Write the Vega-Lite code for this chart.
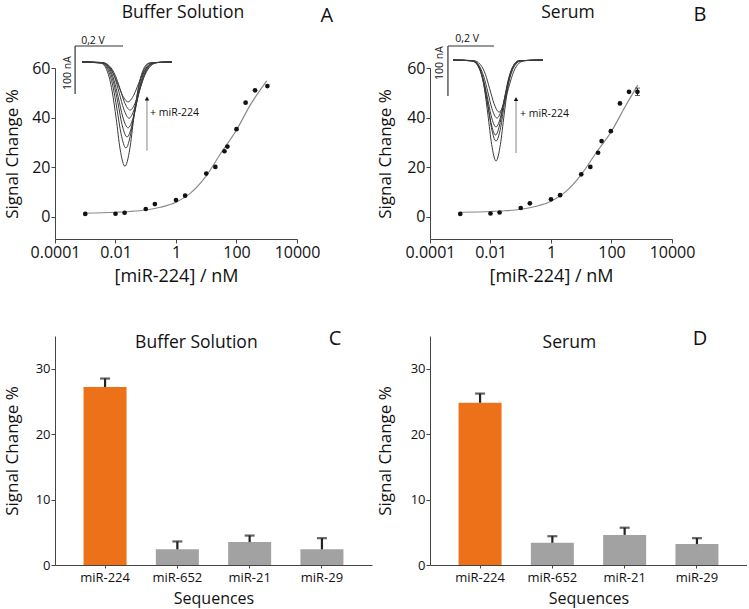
{
 "$schema": "https://vega.github.io/schema/vega-lite/v6.json",
 "padding": {"left": 3, "top": 3, "right": 0, "bottom": 4},
 "background": "white",
 "config": {
  "view": {"stroke": null},
  "font": "Open Sans",
  "axis": {"grid": false, "domainColor": "#444", "domainWidth": 1, "tickColor": "#444", "tickSize": 4, "labelColor": "#111", "titleColor": "#111", "titleFontWeight": "normal", "labelPadding": 1},
  "text": {"color": "#111", "font": "Open Sans"}
 },
 "datasets": {
  "fitA": [{"conc":0.001,"signal":1.4},{"conc":0.01,"signal":1.8},{"conc":0.03,"signal":2.1},{"conc":0.1,"signal":2.7},{"conc":0.3,"signal":3.8},{"conc":1,"signal":5.8},{"conc":3,"signal":9.5},{"conc":10,"signal":16.5},{"conc":30,"signal":25.5},{"conc":100,"signal":35},{"conc":300,"signal":45.5},{"conc":1000,"signal":54.8}],
  "ptsA": [{"conc":0.001,"signal":1.1},{"conc":0.01,"signal":1.2},{"conc":0.02,"signal":1.6},{"conc":0.1,"signal":3.1},{"conc":0.2,"signal":5.1},{"conc":1,"signal":6.7},{"conc":2,"signal":8.5},{"conc":10,"signal":17.4},{"conc":20,"signal":20.1},{"conc":40,"signal":26.4},{"conc":50,"signal":28.3},{"conc":100,"signal":35.3},{"conc":200,"signal":46.0},{"conc":410,"signal":51.0},{"conc":1050,"signal":52.7}],
  "fitB": [{"conc":0.001,"signal":1.8},{"conc":0.01,"signal":2.1},{"conc":0.03,"signal":2.4},{"conc":0.1,"signal":3.0},{"conc":0.3,"signal":4.1},{"conc":1,"signal":6.2},{"conc":3,"signal":10},{"conc":10,"signal":17},{"conc":30,"signal":25.5},{"conc":100,"signal":34.5},{"conc":300,"signal":45},{"conc":740,"signal":53.1}],
  "ptsB": [{"conc":0.001,"signal":1.1},{"conc":0.01,"signal":1.3},{"conc":0.02,"signal":1.7},{"conc":0.1,"signal":3.5},{"conc":0.2,"signal":5.4},{"conc":1,"signal":7.0},{"conc":2,"signal":8.7},{"conc":10,"signal":17.1},{"conc":20,"signal":20.1},{"conc":36,"signal":25.8},{"conc":47,"signal":30.5},{"conc":95,"signal":34.5},{"conc":190,"signal":45.7},{"conc":380,"signal":50.4},{"conc":720,"signal":50.4}],
  "errB": [{"conc":720,"lo":48.9,"hi":51.9}],
  "ivA": [
   {"c":"a1","E":0.012,"I":0},{"c":"a1","E":0.090,"I":-2.4},{"c":"a1","E":0.116,"I":-19.3},{"c":"a1","E":0.136,"I":-60.3},{"c":"a1","E":0.153,"I":-118.5},{"c":"a1","E":0.169,"I":-181.2},{"c":"a1","E":0.189,"I":-217},{"c":"a1","E":0.209,"I":-181.2},{"c":"a1","E":0.225,"I":-118.5},{"c":"a1","E":0.242,"I":-60.3},{"c":"a1","E":0.262,"I":-19.3},{"c":"a1","E":0.288,"I":-2.4},{"c":"a1","E":0.383,"I":0},
   {"c":"a2","E":0.012,"I":0},{"c":"a2","E":0.091,"I":-2.0},{"c":"a2","E":0.118,"I":-15.9},{"c":"a2","E":0.139,"I":-49.8},{"c":"a2","E":0.156,"I":-97.7},{"c":"a2","E":0.173,"I":-149.5},{"c":"a2","E":0.193,"I":-179},{"c":"a2","E":0.213,"I":-149.5},{"c":"a2","E":0.230,"I":-97.7},{"c":"a2","E":0.247,"I":-49.8},{"c":"a2","E":0.268,"I":-15.9},{"c":"a2","E":0.295,"I":-2.0},{"c":"a2","E":0.383,"I":0},
   {"c":"a3","E":0.012,"I":0},{"c":"a3","E":0.093,"I":-1.7},{"c":"a3","E":0.121,"I":-13.9},{"c":"a3","E":0.142,"I":-43.4},{"c":"a3","E":0.160,"I":-85.2},{"c":"a3","E":0.177,"I":-130.3},{"c":"a3","E":0.198,"I":-156},{"c":"a3","E":0.219,"I":-130.3},{"c":"a3","E":0.237,"I":-85.2},{"c":"a3","E":0.254,"I":-43.4},{"c":"a3","E":0.275,"I":-13.9},{"c":"a3","E":0.303,"I":-1.7},{"c":"a3","E":0.383,"I":0},
   {"c":"a4","E":0.012,"I":0},{"c":"a4","E":0.094,"I":-1.5},{"c":"a4","E":0.123,"I":-12.2},{"c":"a4","E":0.144,"I":-38.1},{"c":"a4","E":0.162,"I":-74.8},{"c":"a4","E":0.180,"I":-114.4},{"c":"a4","E":0.202,"I":-137},{"c":"a4","E":0.224,"I":-114.4},{"c":"a4","E":0.242,"I":-74.8},{"c":"a4","E":0.260,"I":-38.1},{"c":"a4","E":0.281,"I":-12.2},{"c":"a4","E":0.310,"I":-1.5},{"c":"a4","E":0.383,"I":0},
   {"c":"a5","E":0.012,"I":0},{"c":"a5","E":0.095,"I":-1.3},{"c":"a5","E":0.125,"I":-10.4},{"c":"a5","E":0.147,"I":-32.5},{"c":"a5","E":0.165,"I":-63.9},{"c":"a5","E":0.184,"I":-97.7},{"c":"a5","E":0.206,"I":-117},{"c":"a5","E":0.228,"I":-97.7},{"c":"a5","E":0.247,"I":-63.9},{"c":"a5","E":0.265,"I":-32.5},{"c":"a5","E":0.287,"I":-10.4},{"c":"a5","E":0.317,"I":-1.3},{"c":"a5","E":0.383,"I":0},
   {"c":"a6","E":0.012,"I":0},{"c":"a6","E":0.096,"I":-1.1},{"c":"a6","E":0.126,"I":-8.9},{"c":"a6","E":0.149,"I":-27.8},{"c":"a6","E":0.168,"I":-54.6},{"c":"a6","E":0.187,"I":-83.5},{"c":"a6","E":0.210,"I":-100},{"c":"a6","E":0.233,"I":-83.5},{"c":"a6","E":0.252,"I":-54.6},{"c":"a6","E":0.271,"I":-27.8},{"c":"a6","E":0.294,"I":-8.9},{"c":"a6","E":0.324,"I":-1.1},{"c":"a6","E":0.383,"I":0},
   {"c":"a7","E":0.012,"I":0},{"c":"a7","E":0.085,"I":-0.9},{"c":"a7","E":0.116,"I":-7.4},{"c":"a7","E":0.140,"I":-23.1},{"c":"a7","E":0.159,"I":-45.3},{"c":"a7","E":0.179,"I":-69.3},{"c":"a7","E":0.202,"I":-83},{"c":"a7","E":0.225,"I":-69.3},{"c":"a7","E":0.245,"I":-45.3},{"c":"a7","E":0.264,"I":-23.1},{"c":"a7","E":0.288,"I":-7.4},{"c":"a7","E":0.319,"I":-0.9},{"c":"a7","E":0.383,"I":0}
  ],
  "ivB": [
   {"c":"b1","E":-0.02,"I":0},{"c":"b1","E":0.071,"I":-2.2},{"c":"b1","E":0.097,"I":-18.0},{"c":"b1","E":0.116,"I":-56.2},{"c":"b1","E":0.132,"I":-110.3},{"c":"b1","E":0.148,"I":-168.7},{"c":"b1","E":0.167,"I":-202},{"c":"b1","E":0.186,"I":-168.7},{"c":"b1","E":0.202,"I":-110.3},{"c":"b1","E":0.218,"I":-56.2},{"c":"b1","E":0.237,"I":-18.0},{"c":"b1","E":0.263,"I":-2.2},{"c":"b1","E":0.371,"I":0},
   {"c":"b2","E":-0.02,"I":0},{"c":"b2","E":0.068,"I":-1.8},{"c":"b2","E":0.094,"I":-14.4},{"c":"b2","E":0.114,"I":-45.0},{"c":"b2","E":0.131,"I":-88.5},{"c":"b2","E":0.147,"I":-135.3},{"c":"b2","E":0.167,"I":-162},{"c":"b2","E":0.187,"I":-135.3},{"c":"b2","E":0.203,"I":-88.5},{"c":"b2","E":0.220,"I":-45.0},{"c":"b2","E":0.240,"I":-14.4},{"c":"b2","E":0.266,"I":-1.8},{"c":"b2","E":0.371,"I":0},
   {"c":"b3","E":-0.02,"I":0},{"c":"b3","E":0.063,"I":-1.7},{"c":"b3","E":0.090,"I":-13.3},{"c":"b3","E":0.111,"I":-41.7},{"c":"b3","E":0.128,"I":-81.9},{"c":"b3","E":0.145,"I":-125.3},{"c":"b3","E":0.165,"I":-150},{"c":"b3","E":0.185,"I":-125.3},{"c":"b3","E":0.202,"I":-81.9},{"c":"b3","E":0.219,"I":-41.7},{"c":"b3","E":0.240,"I":-13.3},{"c":"b3","E":0.267,"I":-1.7},{"c":"b3","E":0.371,"I":0},
   {"c":"b4","E":-0.02,"I":0},{"c":"b4","E":0.062,"I":-1.5},{"c":"b4","E":0.090,"I":-11.9},{"c":"b4","E":0.111,"I":-37.3},{"c":"b4","E":0.129,"I":-73.2},{"c":"b4","E":0.146,"I":-111.9},{"c":"b4","E":0.167,"I":-134},{"c":"b4","E":0.188,"I":-111.9},{"c":"b4","E":0.206,"I":-73.2},{"c":"b4","E":0.223,"I":-37.3},{"c":"b4","E":0.244,"I":-11.9},{"c":"b4","E":0.272,"I":-1.5},{"c":"b4","E":0.371,"I":0},
   {"c":"b5","E":-0.02,"I":0},{"c":"b5","E":0.063,"I":-1.3},{"c":"b5","E":0.092,"I":-10.3},{"c":"b5","E":0.113,"I":-32.2},{"c":"b5","E":0.131,"I":-63.3},{"c":"b5","E":0.149,"I":-96.9},{"c":"b5","E":0.171,"I":-116},{"c":"b5","E":0.193,"I":-96.9},{"c":"b5","E":0.211,"I":-63.3},{"c":"b5","E":0.229,"I":-32.2},{"c":"b5","E":0.250,"I":-10.3},{"c":"b5","E":0.279,"I":-1.3},{"c":"b5","E":0.371,"I":0},
   {"c":"b6","E":-0.02,"I":0},{"c":"b6","E":0.069,"I":-1.2},{"c":"b6","E":0.099,"I":-9.2},{"c":"b6","E":0.121,"I":-28.9},{"c":"b6","E":0.139,"I":-56.8},{"c":"b6","E":0.158,"I":-86.8},{"c":"b6","E":0.180,"I":-104},{"c":"b6","E":0.202,"I":-86.8},{"c":"b6","E":0.221,"I":-56.8},{"c":"b6","E":0.239,"I":-28.9},{"c":"b6","E":0.261,"I":-9.2},{"c":"b6","E":0.291,"I":-1.2},{"c":"b6","E":0.371,"I":0}
  ],
  "barsC": [{"seq":"miR-224","value":27.2,"err":28.5},{"seq":"miR-652","value":2.4,"err":3.6},{"seq":"miR-21","value":3.5,"err":4.5},{"seq":"miR-29","value":2.4,"err":4.1}],
  "barsD": [{"seq":"miR-224","value":24.8,"err":26.2},{"seq":"miR-652","value":3.4,"err":4.4},{"seq":"miR-21","value":4.6,"err":5.7},{"seq":"miR-29","value":3.2,"err":4.1}]
 },
 "columns": 2,
 "spacing": {"row": 39, "column": 58},
 "bounds": "flush",
 "align": "all",
 "concat": [
    {
     "width": 242, "height": 171,
     "resolve": {"scale": {"x": "independent", "y": "independent"}},
     "layer": [
      {"layer": [
       {"data": {"name": "fitA"}, "mark": {"type": "line", "interpolate": "monotone", "color": "#8a8a8a", "strokeWidth": 1.2},
        "encoding": {
         "x": {"field": "conc", "type": "quantitative", "scale": {"type": "log", "domain": [0.0001, 10000], "nice": false},
               "axis": {"values": [0.0001, 0.01, 1, 100, 10000], "format": "~g", "labelFontSize": 16, "labelFlush": false, "title": "[miR-224] / nM", "titleFontSize": 18, "titlePadding": 7}},
         "y": {"field": "signal", "type": "quantitative", "scale": {"domain": [-9, 60], "nice": false, "zero": false},
               "axis": {"values": [0, 20, 40, 60], "labelFontSize": 16, "title": "Signal Change %", "titleFontSize": 17, "titlePadding": 10}}
        }},
       {"data": {"name": "ptsA"}, "mark": {"type": "point", "filled": true, "color": "#111", "size": 22, "opacity": 1},
        "encoding": {"x": {"field": "conc", "type": "quantitative"}, "y": {"field": "signal", "type": "quantitative"}}},
       {"data": {"values": [{"t": "Buffer Solution"}]}, "mark": {"type": "text", "fontSize": 17.5, "baseline": "middle"},
        "encoding": {"x": {"datum": 1.7}, "y": {"datum": 82.2}, "text": {"field": "t"}}},
       {"data": {"values": [{"t": "A"}]}, "mark": {"type": "text", "fontSize": 20, "baseline": "middle"},
        "encoding": {"x": {"datum": 97000}, "y": {"datum": 81}, "text": {"field": "t"}}}
      ]},
      {"layer": [
       {"data": {"name": "ivA"}, "mark": {"type": "line", "interpolate": "monotone", "color": "#3a3a3a", "strokeWidth": 1},
        "encoding": {
         "x": {"field": "E", "type": "quantitative", "scale": {"domain": [-0.1, 0.9], "nice": false, "zero": false}, "axis": null},
         "y": {"field": "I", "type": "quantitative", "scale": {"domain": [-368.5, -12.5], "nice": false, "zero": false}, "axis": null},
         "detail": {"field": "c", "type": "nominal"}
        }},
       {"data": {"values": [{"E": -0.017, "E2": 0.181, "I": 33.3, "I2": 33.3}, {"E": -0.017, "E2": -0.017, "I": -66.6, "I2": 33.3}]},
        "mark": {"type": "rule", "color": "#333", "strokeWidth": 1.2},
        "encoding": {"x": {"field": "E", "type": "quantitative"}, "x2": {"field": "E2"}, "y": {"field": "I", "type": "quantitative"}, "y2": {"field": "I2"}}},
       {"data": {"values": [{"E": 0.28, "I": -185, "I2": -78}]},
        "mark": {"type": "rule", "color": "#9a9a9a", "strokeWidth": 1.2},
        "encoding": {"x": {"field": "E", "type": "quantitative"}, "y": {"field": "I", "type": "quantitative"}, "y2": {"field": "I2"}}},
       {"data": {"values": [{"E": 0.28, "I": -76}]},
        "mark": {"type": "point", "shape": "triangle-up", "filled": true, "color": "#111", "size": 20, "opacity": 1},
        "encoding": {"x": {"field": "E", "type": "quantitative"}, "y": {"field": "I", "type": "quantitative"}}},
       {"data": {"values": [{"E": 0.293, "I": -106, "t": "+ miR-224"}]},
        "mark": {"type": "text", "fontSize": 10.5, "align": "left", "baseline": "middle"},
        "encoding": {"x": {"field": "E", "type": "quantitative"}, "y": {"field": "I", "type": "quantitative"}, "text": {"field": "t"}}},
       {"data": {"values": [{"E": 0.057, "I": 43.7, "t": "0,2 V"}]},
        "mark": {"type": "text", "fontSize": 10.5, "align": "center", "baseline": "middle"},
        "encoding": {"x": {"field": "E", "type": "quantitative"}, "y": {"field": "I", "type": "quantitative"}, "text": {"field": "t"}}},
       {"data": {"values": [{"E": -0.046, "I": -23, "t": "100 nA"}]},
        "mark": {"type": "text", "fontSize": 10.5, "align": "center", "baseline": "middle", "angle": 270},
        "encoding": {"x": {"field": "E", "type": "quantitative"}, "y": {"field": "I", "type": "quantitative"}, "text": {"field": "t"}}}
      ]}
     ]
    },
    {
     "width": 242, "height": 171,
     "resolve": {"scale": {"x": "independent", "y": "independent"}},
     "layer": [
      {"layer": [
       {"data": {"name": "fitB"}, "mark": {"type": "line", "interpolate": "monotone", "color": "#8a8a8a", "strokeWidth": 1.2},
        "encoding": {
         "x": {"field": "conc", "type": "quantitative", "scale": {"type": "log", "domain": [0.0001, 10000], "nice": false},
               "axis": {"values": [0.0001, 0.01, 1, 100, 10000], "format": "~g", "labelFontSize": 16, "labelFlush": false, "title": "[miR-224] / nM", "titleFontSize": 18, "titlePadding": 7}},
         "y": {"field": "signal", "type": "quantitative", "scale": {"domain": [-9, 60], "nice": false, "zero": false},
               "axis": {"values": [0, 20, 40, 60], "labelFontSize": 16, "title": "Signal Change %", "titleFontSize": 17, "titlePadding": 12}}
        }},
       {"data": {"name": "errB"}, "mark": {"type": "rule", "color": "#222", "strokeWidth": 1},
        "encoding": {"x": {"field": "conc", "type": "quantitative"}, "y": {"field": "lo", "type": "quantitative"}, "y2": {"field": "hi"}}},
       {"data": {"name": "errB"}, "mark": {"type": "tick", "orient": "horizontal", "color": "#222", "size": 5, "thickness": 1},
        "encoding": {"x": {"field": "conc", "type": "quantitative"}, "y": {"field": "lo", "type": "quantitative"}}},
       {"data": {"name": "errB"}, "mark": {"type": "tick", "orient": "horizontal", "color": "#222", "size": 5, "thickness": 1},
        "encoding": {"x": {"field": "conc", "type": "quantitative"}, "y": {"field": "hi", "type": "quantitative"}}},
       {"data": {"name": "ptsB"}, "mark": {"type": "point", "filled": true, "color": "#111", "size": 22, "opacity": 1},
        "encoding": {"x": {"field": "conc", "type": "quantitative"}, "y": {"field": "signal", "type": "quantitative"}}},
       {"data": {"values": [{"t": "Serum"}]}, "mark": {"type": "text", "fontSize": 17.5, "baseline": "middle"},
        "encoding": {"x": {"datum": 3.65}, "y": {"datum": 82.2}, "text": {"field": "t"}}},
       {"data": {"values": [{"t": "B"}]}, "mark": {"type": "text", "fontSize": 20, "baseline": "middle"},
        "encoding": {"x": {"datum": 84000}, "y": {"datum": 81.4}, "text": {"field": "t"}}}
      ]},
      {"layer": [
       {"data": {"name": "ivB"}, "mark": {"type": "line", "interpolate": "monotone", "color": "#3a3a3a", "strokeWidth": 1},
        "encoding": {
         "x": {"field": "E", "type": "quantitative", "scale": {"domain": [-0.12, 0.932], "nice": false, "zero": false}, "axis": null},
         "y": {"field": "I", "type": "quantitative", "scale": {"domain": [-358, -16], "nice": false, "zero": false}, "axis": null},
         "detail": {"field": "c", "type": "nominal"}
        }},
       {"data": {"values": [{"E": -0.042, "E2": 0.158, "I": 28, "I2": 28}, {"E": -0.042, "E2": -0.042, "I": -72, "I2": 28}]},
        "mark": {"type": "rule", "color": "#333", "strokeWidth": 1.2},
        "encoding": {"x": {"field": "E", "type": "quantitative"}, "x2": {"field": "E2"}, "y": {"field": "I", "type": "quantitative"}, "y2": {"field": "I2"}}},
       {"data": {"values": [{"E": 0.254, "I": -186, "I2": -80}]},
        "mark": {"type": "rule", "color": "#9a9a9a", "strokeWidth": 1.2},
        "encoding": {"x": {"field": "E", "type": "quantitative"}, "y": {"field": "I", "type": "quantitative"}, "y2": {"field": "I2"}}},
       {"data": {"values": [{"E": 0.254, "I": -78}]},
        "mark": {"type": "point", "shape": "triangle-up", "filled": true, "color": "#111", "size": 20, "opacity": 1},
        "encoding": {"x": {"field": "E", "type": "quantitative"}, "y": {"field": "I", "type": "quantitative"}}},
       {"data": {"values": [{"E": 0.271, "I": -108, "t": "+ miR-224"}]},
        "mark": {"type": "text", "fontSize": 10.5, "align": "left", "baseline": "middle"},
        "encoding": {"x": {"field": "E", "type": "quantitative"}, "y": {"field": "I", "type": "quantitative"}, "text": {"field": "t"}}},
       {"data": {"values": [{"E": 0.041, "I": 42, "t": "0,2 V"}]},
        "mark": {"type": "text", "fontSize": 10.5, "align": "center", "baseline": "middle"},
        "encoding": {"x": {"field": "E", "type": "quantitative"}, "y": {"field": "I", "type": "quantitative"}, "text": {"field": "t"}}},
       {"data": {"values": [{"E": -0.077, "I": -6, "t": "100 nA"}]},
        "mark": {"type": "text", "fontSize": 10.5, "align": "center", "baseline": "middle", "angle": 270},
        "encoding": {"x": {"field": "E", "type": "quantitative"}, "y": {"field": "I", "type": "quantitative"}, "text": {"field": "t"}}}
      ]}
     ]
    },
    {
     "width": 317, "height": 229,
     "data": {"name": "barsC"},
     "layer": [
      {"mark": {"type": "bar"},
       "encoding": {
        "x": {"field": "seq", "type": "nominal", "sort": null, "scale": {"domain": ["miR-224", "miR-652", "miR-21", "miR-29"], "paddingInner": 0.405, "paddingOuter": 0.395},
              "axis": {"labelAngle": 0, "labelFontSize": 13, "ticks": true, "tickSize": 3, "labelPadding": 3, "title": "Sequences", "titleFontSize": 16, "titlePadding": 6}},
        "y": {"field": "value", "type": "quantitative", "scale": {"domain": [0, 35], "nice": false},
              "axis": {"values": [0, 10, 20, 30], "labelFontSize": 13, "title": "Signal Change %", "titleFontSize": 17, "titlePadding": 14}},
        "color": {"field": "seq", "type": "nominal", "scale": {"domain": ["miR-224", "miR-652", "miR-21", "miR-29"], "range": ["#EC7118", "#A2A2A2", "#A2A2A2", "#A2A2A2"]}, "legend": null}
       }},
      {"mark": {"type": "rule", "color": "#222", "strokeWidth": 2.2},
       "encoding": {"x": {"field": "seq", "type": "nominal"}, "y": {"field": "value", "type": "quantitative"}, "y2": {"field": "err"}}},
      {"mark": {"type": "tick", "orient": "horizontal", "color": "#222", "thickness": 2.2, "size": 10},
       "encoding": {"x": {"field": "seq", "type": "nominal"}, "y": {"field": "err", "type": "quantitative"}}},
      {"data": {"values": [{"t": "Buffer Solution"}]}, "mark": {"type": "text", "fontSize": 17.5, "baseline": "middle", "dx": 19},
       "encoding": {"x": {"datum": "miR-652"}, "y": {"datum": 34.0}, "text": {"field": "t"}}},
      {"data": {"values": [{"t": "C"}]}, "mark": {"type": "text", "fontSize": 20, "baseline": "middle", "dx": 13},
       "encoding": {"x": {"datum": "miR-29"}, "y": {"datum": 34.6}, "text": {"field": "t"}}}
     ]
    },
    {
     "width": 317, "height": 229,
     "data": {"name": "barsD"},
     "layer": [
      {"mark": {"type": "bar"},
       "encoding": {
        "x": {"field": "seq", "type": "nominal", "sort": null, "scale": {"domain": ["miR-224", "miR-652", "miR-21", "miR-29"], "paddingInner": 0.405, "paddingOuter": 0.395},
              "axis": {"labelAngle": 0, "labelFontSize": 13, "ticks": true, "tickSize": 3, "labelPadding": 3, "title": "Sequences", "titleFontSize": 16, "titlePadding": 6}},
        "y": {"field": "value", "type": "quantitative", "scale": {"domain": [0, 35], "nice": false},
              "axis": {"values": [0, 10, 20, 30], "labelFontSize": 13, "title": "Signal Change %", "titleFontSize": 17, "titlePadding": 16}},
        "color": {"field": "seq", "type": "nominal", "scale": {"domain": ["miR-224", "miR-652", "miR-21", "miR-29"], "range": ["#EC7118", "#A2A2A2", "#A2A2A2", "#A2A2A2"]}, "legend": null}
       }},
      {"mark": {"type": "rule", "color": "#222", "strokeWidth": 2.2},
       "encoding": {"x": {"field": "seq", "type": "nominal"}, "y": {"field": "value", "type": "quantitative"}, "y2": {"field": "err"}}},
      {"mark": {"type": "tick", "orient": "horizontal", "color": "#222", "thickness": 2.2, "size": 10},
       "encoding": {"x": {"field": "seq", "type": "nominal"}, "y": {"field": "err", "type": "quantitative"}}},
      {"data": {"values": [{"t": "Serum"}]}, "mark": {"type": "text", "fontSize": 17.5, "baseline": "middle", "dx": 17},
       "encoding": {"x": {"datum": "miR-652"}, "y": {"datum": 34.0}, "text": {"field": "t"}}},
      {"data": {"values": [{"t": "D"}]}, "mark": {"type": "text", "fontSize": 20, "baseline": "middle", "dx": 3},
       "encoding": {"x": {"datum": "miR-29"}, "y": {"datum": 34.6}, "text": {"field": "t"}}}
     ]
    }
 ]
}
